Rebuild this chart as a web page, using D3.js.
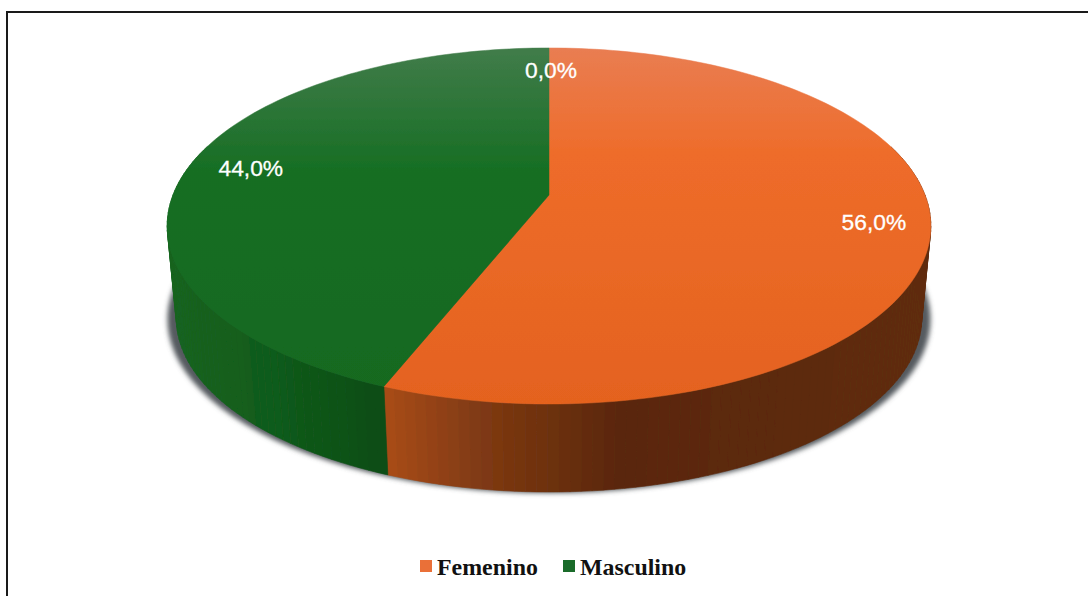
<!DOCTYPE html>
<html>
<head>
<meta charset="utf-8">
<script src="https://cdn.jsdelivr.net/npm/d3@7"></script>
<style>
  html, body { margin: 0; background: #fff; }
  svg { display: block; }
</style>
</head>
<body>
<svg id="vis"></svg>
<script>
var categories = ["Femenino", "Masculino"]
var values = [56, 44, 0]
var labels = ["56,0%", "44,0%", "0,0%"]

var dimensions = { width: 1088, height: 596 }

var svg = d3.select("#vis")
        .attr("width", dimensions.width)
        .attr("height", dimensions.height)

// tilted disc: projective view of a unit circle
var cx = 549, cy = 195, k = 376, b = 138.7, c = -0.174
var depthScale = 0.976, depthShift = 93

function project(angle, r, lower) {
        var u = r * Math.sin(angle), v = -r * Math.cos(angle)
        var w = 1 + c * v
        var x = k * u / w, y = (cy + b * v) / w
        if (lower) {
                return [cx + x * depthScale, cy + depthShift + (y - cy) * depthScale]
        }
        return [cx + x, y]
}

var arcs = d3.pie().sort(null).value(d => d)(values)
var line = d3.line()

function rim(a0, a1, lower) {
        var n = Math.max(2, Math.ceil((a1 - a0) * 40))
        return d3.range(n + 1).map(i => project(a0 + (a1 - a0) * i / n, 1, lower))
}

var defs = svg.append("defs")

defs.append("filter").attr("id", "shadow")
        .attr("x", "-10%").attr("y", "-10%").attr("width", "120%").attr("height", "120%")
        .append("feGaussianBlur").attr("stdDeviation", 2.6)

defs.append("filter").attr("id", "soft")
        .append("feGaussianBlur").attr("stdDeviation", 0.45)

var topStops = [
        [["#e97d52", 0], ["#ee6c2a", 0.3], ["#e4621f", 1]],
        [["#417c4a", 0], ["#166e23", 0.35], ["#13691f", 1]]
]
topStops.forEach(function (stops, i) {
        var g = defs.append("linearGradient").attr("id", "top" + i)
                .attr("gradientUnits", "userSpaceOnUse")
                .attr("x1", 0).attr("x2", 0).attr("y1", 48).attr("y2", 404)
        stops.forEach(s => g.append("stop").attr("offset", s[1]).attr("stop-color", s[0]))
})

// side wall colours run across the width of each slice
var wallColor = [
        d3.scaleLinear().domain([384, 480, 620, 930]).range(["#a94c16", "#7f3a12", "#5a270b", "#5f2c0d"]),
        d3.scaleLinear().domain([167, 280, 385]).range(["#156420", "#105a1a", "#0c4c14"])
]

var chart = svg.append("g").attr("filter", "url(#soft)")

// drop shadow
var base = d3.range(121).map(i => project(i * Math.PI / 60, 1, true))
chart.append("path")
        .attr("d", line(base.map(p => [cx + (p[0] - cx) * 1.024, p[1] + 1])) + "Z")
        .attr("fill", "#555a5e")
        .attr("filter", "url(#shadow)")

// walls, front part only
arcs.forEach(function (d, i) {
        if (d.endAngle - d.startAngle === 0) return
        var upper = rim(d.startAngle, d.endAngle, false)
        var lower = rim(d.startAngle, d.endAngle, true)
        d3.range(upper.length - 1).forEach(function (j) {
                if (upper[j][1] < 150 && upper[j + 1][1] < 150) return
                var col = wallColor[i]((upper[j][0] + upper[j + 1][0]) / 2)
                chart.append("path")
                        .attr("d", line([upper[j], upper[j + 1], lower[j + 1], lower[j]]) + "Z")
                        .attr("fill", col)
                        .attr("stroke", col)
                        .attr("stroke-width", 0.6)
        })
})

// top surface
arcs.forEach(function (d, i) {
        if (d.endAngle - d.startAngle === 0) return
        var pts = [[cx, cy]].concat(rim(d.startAngle, d.endAngle, false))
        chart.append("path")
                .attr("d", line(pts) + "Z")
                .attr("fill", "url(#top" + i + ")")
                .attr("stroke", "url(#top" + i + ")")
                .attr("stroke-width", 0.5)
})

// data labels
var labelRadius = [0.85, 0.835, 0.82]
svg.selectAll(".label")
        .data(arcs)
        .enter()
        .append("text")
        .attr("class", "label")
        .attr("x", (d, i) => project((d.startAngle + d.endAngle) / 2, labelRadius[i], false)[0] + 2)
        .attr("y", (d, i) => project((d.startAngle + d.endAngle) / 2, labelRadius[i], false)[1] + 7)
        .attr("text-anchor", "middle")
        .attr("fill", "#fff")
        .attr("stroke", "#fff")
        .attr("stroke-width", 0.3)
        .style("font-family", "'Liberation Sans', sans-serif")
        .style("font-size", "22.8px")
        .text((d, i) => labels[i])

// legend
var legendSwatch = ["#ea7038", "#1a6b2a"]
var legendX = [420, 563]
categories.forEach(function (name, i) {
        svg.append("rect")
                .attr("x", legendX[i]).attr("y", 560)
                .attr("width", 12).attr("height", 12)
                .attr("fill", legendSwatch[i])
        svg.append("text")
                .attr("x", legendX[i] + 17).attr("y", 575)
                .attr("fill", "#111")
                .style("font-family", "'Liberation Serif', serif")
                .style("font-weight", "bold")
                .style("font-size", "23.9px")
                .text(name)
})

// frame
svg.append("path")
        .attr("d", "M7,596V12H1088")
        .attr("fill", "none")
        .attr("stroke", "#1a1a1a")
        .attr("stroke-width", 2)
</script>
</body>
</html>
